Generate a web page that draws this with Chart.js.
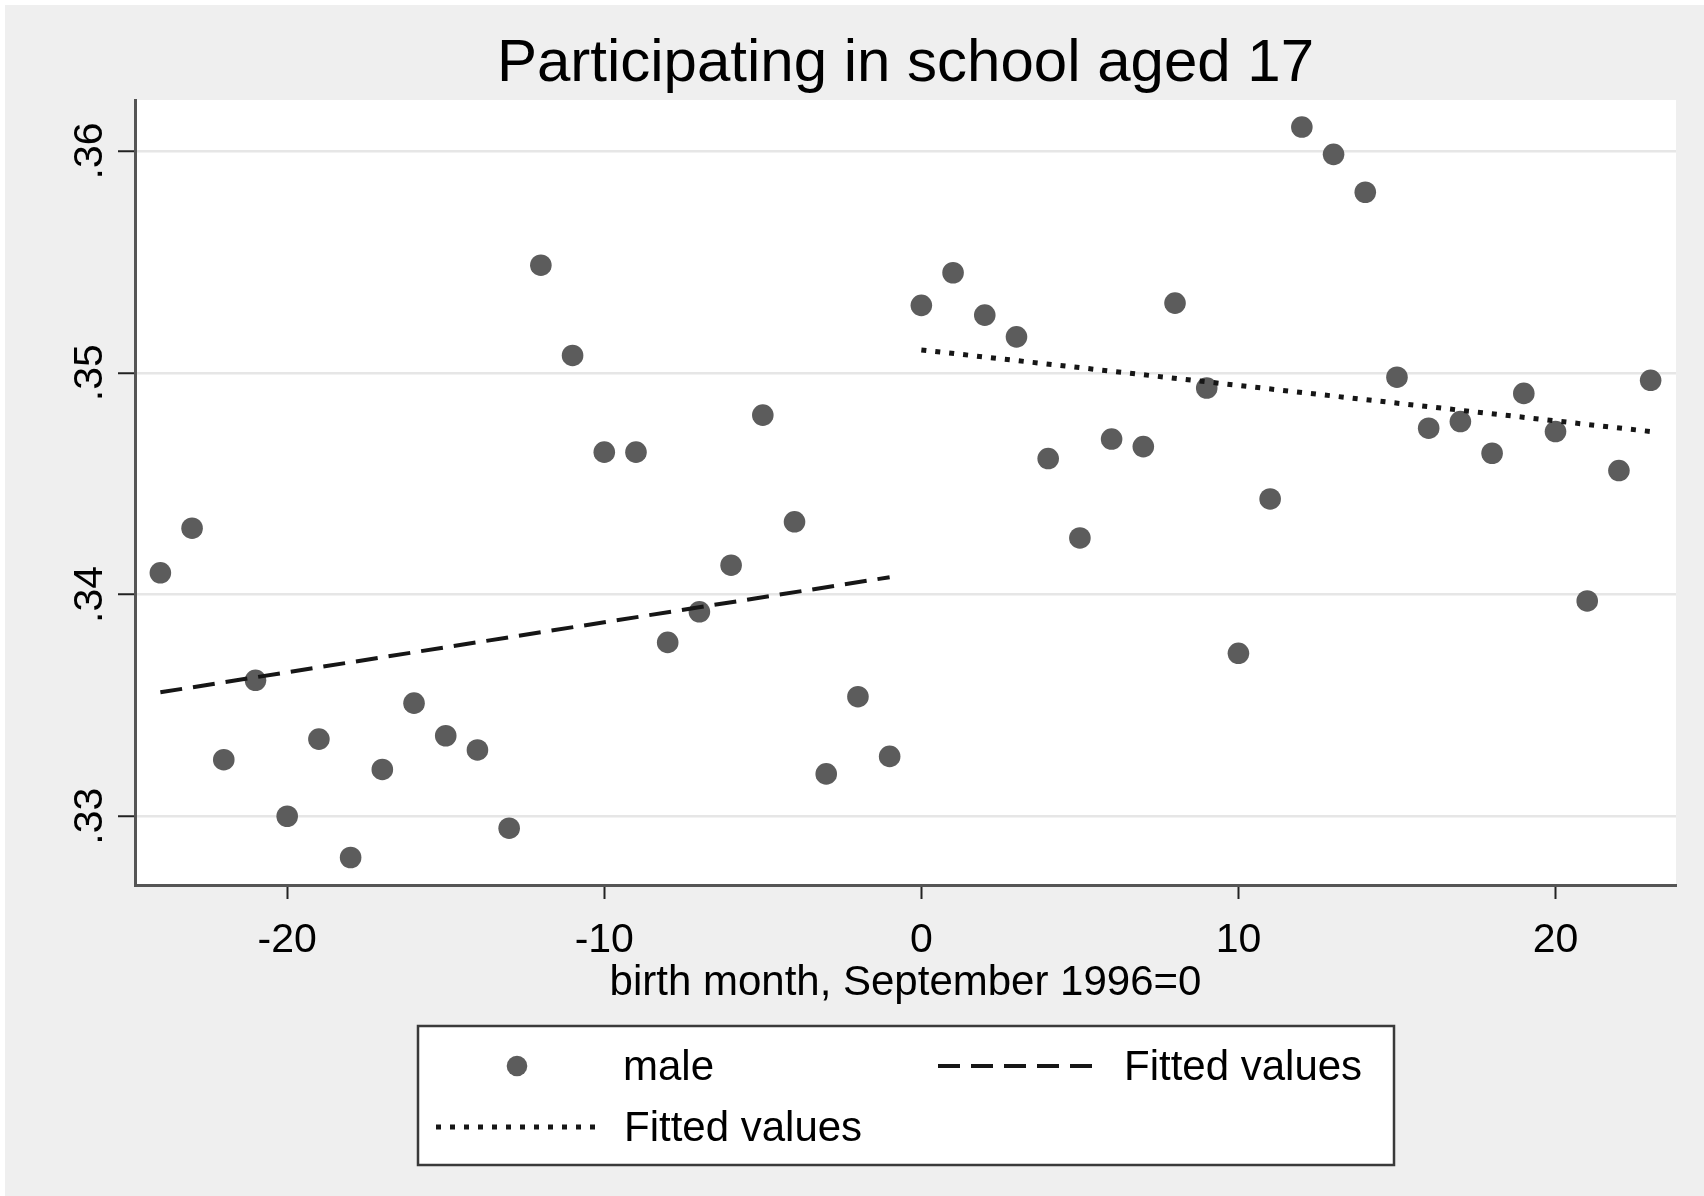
<!DOCTYPE html>
<html>
<head>
<meta charset="utf-8">
<title>Participating in school aged 17</title>
<script src="https://cdn.jsdelivr.net/npm/chart.js@4.4.1/dist/chart.umd.min.js"></script>
<style>
    html, body { margin: 0; padding: 0; background: #ffffff; }
    canvas { display: block; }
</style>
</head>
<body>
<canvas id="chart-school17" width="1704" height="1196"></canvas>
<script>
/* global Chart */

// birth month relative to September 1996
const months = [
    -24, -23, -22, -21, -20, -19, -18, -17, -16, -15, -14, -13,
    -12, -11, -10, -9, -8, -7, -6, -5, -4, -3, -2, -1,
    0, 1, 2, 3, 4, 5, 6, 7, 8, 9, 10, 11,
    12, 13, 14, 15, 16, 17, 18, 19, 20, 21, 22, 23
];

// share of males participating in school at age 17
const male = [
    0.34098, 0.34299, 0.33255, 0.33613, 0.33000, 0.33348, 0.32814, 0.33211, 0.33510, 0.33363, 0.33299, 0.32946,
    0.35485, 0.35078, 0.34642, 0.34642, 0.33784, 0.33922, 0.34132, 0.34809, 0.34328, 0.33191, 0.33539, 0.33270,
    0.35304, 0.35451, 0.35260, 0.35162, 0.34613, 0.34255, 0.34701, 0.34667, 0.35314, 0.34931, 0.33735, 0.34431,
    0.36108, 0.35985, 0.35814, 0.34980, 0.34750, 0.34780, 0.34637, 0.34907, 0.34735, 0.33971, 0.34559, 0.34966
];

// fitted values, before and after the cutoff
const fitBeforeX = [-24, -1];
const fitBeforeY = [0.33559, 0.34078];
const fitAfterX = [0, 23];
const fitAfterY = [0.35103, 0.34735];

const xTicks = [-20, -10, 0, 10, 20];
const xTickLabels = ['-20', '-10', '0', '10', '20'];
const yTicks = [0.33, 0.34, 0.35, 0.36];
const yTickLabels = ['.33', '.34', '.35', '.36'];

const seriesNames = ['male', 'Fitted values', 'Fitted values'];

const FONT = '"Liberation Sans", Arial, Helvetica, sans-serif';
const MARKER = '#5c5c5c';
const LINE = '#161616';

function toPoints(xs, ys) {
    return xs.map((x, i) => ({ x, y: ys[i] }));
}

const backgroundPlugin = {
    id: 'statBackground',
    beforeDraw(chart) {
        const { ctx, width, height, chartArea } = chart;
        ctx.save();
        ctx.fillStyle = '#ffffff';
        ctx.fillRect(0, 0, width, height);
        ctx.fillStyle = '#efefef';
        ctx.fillRect(5, 5, width - 5, height - 5);
        ctx.fillStyle = '#ffffff';
        ctx.fillRect(chartArea.left, chartArea.top, chartArea.right - chartArea.left, chartArea.bottom - chartArea.top);
        ctx.restore();
    }
};

// Stata-style legend box: two columns, second row holds the dotted fit
const legendPlugin = {
    id: 'statLegend',
    afterDraw(chart) {
        const { ctx, chartArea } = chart;
        const ds = chart.data.datasets;
        const boxW = 976;
        const boxH = 139;
        const left = Math.round((chartArea.left + chartArea.right) / 2 - boxW / 2);
        const top = 1026;
        const row1 = top + 40;
        const row2 = top + 101;

        ctx.save();
        ctx.fillStyle = '#ffffff';
        ctx.fillRect(left, top, boxW, boxH);
        ctx.strokeStyle = '#3a3a3a';
        ctx.lineWidth = 2.5;
        ctx.strokeRect(left, top, boxW, boxH);

        // marker
        ctx.fillStyle = ds[0].backgroundColor;
        ctx.beginPath();
        ctx.arc(left + 99, row1, ds[0].pointRadius - 0.5, 0, Math.PI * 2);
        ctx.fill();

        function sample(d, x0, x1, y) {
            ctx.strokeStyle = d.borderColor;
            ctx.lineWidth = d.borderWidth;
            ctx.lineCap = 'butt';
            ctx.setLineDash(d.borderDash || []);
            ctx.beginPath();
            ctx.moveTo(x0, y);
            ctx.lineTo(x1, y);
            ctx.stroke();
            ctx.setLineDash([]);
        }
        sample(ds[1], left + 520, left + 683, row1);
        sample(ds[2], left + 18, left + 178, row2);

        ctx.fillStyle = '#000000';
        ctx.font = `42px ${FONT}`;
        ctx.textBaseline = 'middle';
        ctx.textAlign = 'left';
        ctx.fillText(seriesNames[0], left + 205, row1 + 2);
        ctx.fillText(seriesNames[1], left + 706, row1 + 2);
        ctx.fillText(seriesNames[2], left + 206, row2 + 2);
        ctx.restore();
    }
};

new Chart(document.getElementById('chart-school17').getContext('2d'), {
    type: 'scatter',
    data: {
        datasets: [
            {
                label: seriesNames[0],
                data: toPoints(months, male),
                backgroundColor: MARKER,
                borderWidth: 0,
                pointRadius: 10.8,
                pointHoverRadius: 10.8,
                showLine: false,
                order: 2
            },
            {
                label: seriesNames[1],
                data: toPoints(fitBeforeX, fitBeforeY),
                showLine: true,
                borderColor: LINE,
                borderWidth: 4,
                borderDash: [22, 11],
                pointRadius: 0,
                fill: false,
                order: 1
            },
            {
                label: seriesNames[2],
                data: toPoints(fitAfterX, fitAfterY),
                showLine: true,
                borderColor: LINE,
                borderWidth: 5,
                borderDash: [5, 9],
                pointRadius: 0,
                fill: false,
                order: 1
            }
        ]
    },
    options: {
        responsive: false,
        animation: false,
        devicePixelRatio: 1,
        events: [],
        layout: { padding: { left: 0, right: 28, top: 0, bottom: 180 } },
        plugins: {
            legend: { display: false },
            tooltip: { enabled: false },
            title: {
                display: true,
                text: 'Participating in school aged 17',
                fullSize: false,
                color: '#000000',
                font: { family: FONT, size: 60, weight: 'normal' },
                padding: { top: 28, bottom: 0 }
            }
        },
        scales: {
            x: {
                type: 'linear',
                min: -24.8,
                max: 23.8,
                afterBuildTicks: (s) => { s.ticks = xTicks.map((v) => ({ value: v })); },
                afterFit: (s) => { s.height = 131; },
                ticks: {
                    color: '#000000',
                    font: { family: FONT, size: 41 },
                    padding: 17,
                    maxRotation: 0,
                    callback: (v, i) => xTickLabels[i]
                },
                grid: {
                    drawOnChartArea: false,
                    drawTicks: true,
                    tickLength: 14,
                    tickColor: '#222222',
                    tickWidth: 2
                },
                border: { display: true, color: '#555555', width: 3 },
                title: {
                    display: true,
                    text: 'birth month, September 1996=0',
                    color: '#000000',
                    font: { family: FONT, size: 42 },
                    padding: { top: 7, bottom: 7 }
                }
            },
            y: {
                type: 'linear',
                min: 0.3269,
                max: 0.3623,
                afterBuildTicks: (s) => { s.ticks = yTicks.map((v) => ({ value: v })); },
                afterFit: (s) => { s.width = 135; },
                ticks: {
                    color: '#000000',
                    font: { family: FONT, size: 41 },
                    minRotation: 90,
                    maxRotation: 90,
                    crossAlign: 'center',
                    padding: -1,
                    callback: (v, i) => yTickLabels[i]
                },
                grid: {
                    color: '#e6e6e6',
                    lineWidth: 2.5,
                    drawTicks: true,
                    tickLength: 17,
                    tickColor: '#222222',
                    tickWidth: 2
                },
                border: { display: true, color: '#555555', width: 3 }
            }
        }
    },
    plugins: [backgroundPlugin, legendPlugin]
});
</script>
</body>
</html>
